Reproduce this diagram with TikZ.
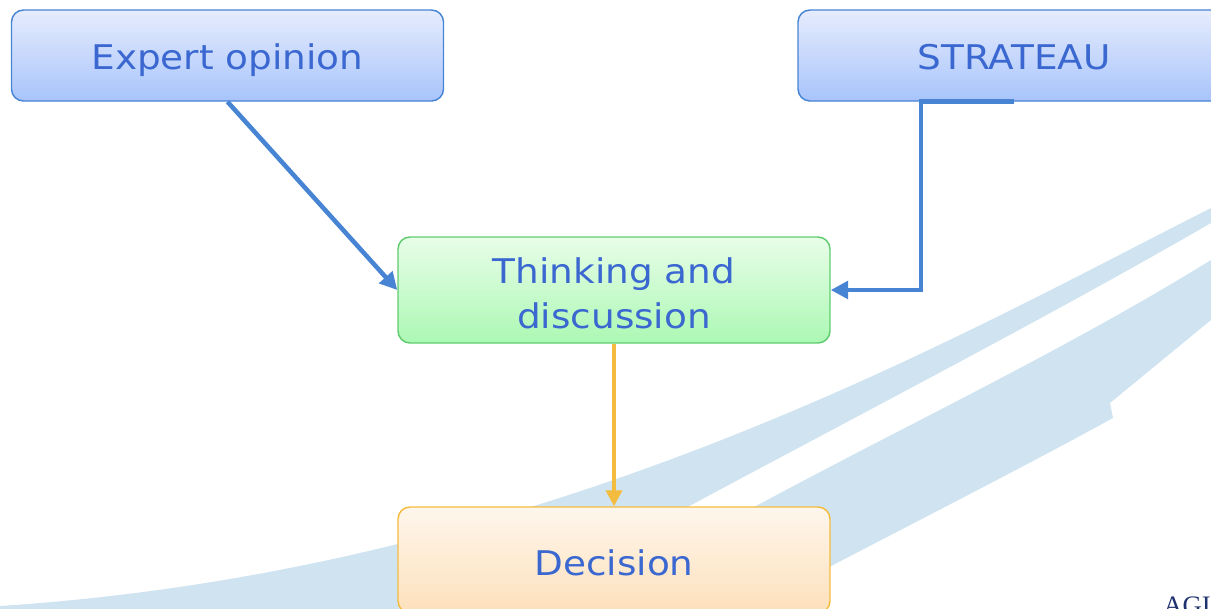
\documentclass[tikz,border=0pt]{standalone}
\usepackage{fontspec}
\newfontfamily\boxfont[FakeStretch=1.1]{DejaVu Sans}
\newfontfamily\logofont{Liberation Serif}
\usetikzlibrary{arrows.meta}

\definecolor{swoosh}{RGB}{207,227,241}
\definecolor{boxtext}{RGB}{58,104,208}
\definecolor{blueline}{RGB}{72,132,212}
\definecolor{greenline}{RGB}{96,204,112}
\definecolor{orangeline}{RGB}{244,188,62}
\definecolor{logotext}{RGB}{30,50,110}

\tikzset{
  flowbox/.style={rectangle, rounded corners=9pt, line width=1.1pt, minimum width=324pt,
    align=center, text=boxtext, font=\boxfont\fontsize{25.5}{33.75}\selectfont},
  topbox/.style={flowbox, draw=blueline, top color={rgb,255:red,230;green,236;blue,253},
    bottom color={rgb,255:red,168;green,196;blue,251}, minimum height=68.25pt,
    text height=21.5pt, text depth=0pt},
  thinkbox/.style={flowbox, draw=greenline, top color={rgb,255:red,232;green,253;blue,232},
    bottom color={rgb,255:red,172;green,248;blue,180}, minimum height=79.5pt,
    text height=57pt, text depth=0pt},
  decibox/.style={flowbox, draw=orangeline, top color={rgb,255:red,254;green,246;blue,236},
    bottom color={rgb,255:red,253;green,224;blue,187}, minimum height=79.5pt,
    text height=23.5pt, text depth=0pt},
  bluearrow/.style={draw=blueline, line width=3.4pt, -{Triangle[length=13pt,width=13pt]}},
  orangearrow/.style={draw=orangeline, line width=2.8pt, -{Triangle[length=12pt,width=12pt]}}
}

\begin{document}
\begin{tikzpicture}[x=0.75pt,y=0.75pt,yscale=-1,xscale=1]
\useasboundingbox (0,0) rectangle (1211,608);
\clip (0,0) rectangle (1211,608);

%Background swoosh
\fill[swoosh] (1240,192) -- (1211,208) .. controls (950,340) and (550,570) .. (0,606) -- (-20,607)
  -- (-20,640) -- (430,640) -- (480,620)
  .. controls (750,470) and (1000,345) .. (1211,223) -- (1240,206) -- cycle;
\fill[swoosh] (1240,243) -- (1211,260) .. controls (1000,390) and (780,480) .. (560,620)
  -- (540,640) -- (690,640)
  .. controls (850,555) and (1000,480) .. (1113,418)
  -- (1110,403) -- (1211,320) -- (1240,296) -- cycle;

% Text Node
\draw (227.5,55.5) node [topbox] (expert) {Expert opinion};
% Text Node
\draw (1014,55.5) node [topbox] (strateau) {STRATEAU};
% Text Node
\draw (614,290) node [thinkbox] (think) {Thinking and\\discussion};
% Text Node
\draw (614,560) node [decibox] (decision) {Decision};
% Text Node
\draw (1163,614) node [anchor=base west, inner sep=0pt, text=logotext, font=\logofont\fontsize{20}{20}\selectfont] (logo) {AGI};

%Straight Lines
\draw [bluearrow] (expert.south) -- (think.west);
%Elbow Lines
\draw [bluearrow, line join=miter] (strateau.south) -- ++(-93,0) |- (think.east);
%Straight Lines
\draw [orangearrow] (think.south) -- (decision.north);

\end{tikzpicture}
\end{document}
